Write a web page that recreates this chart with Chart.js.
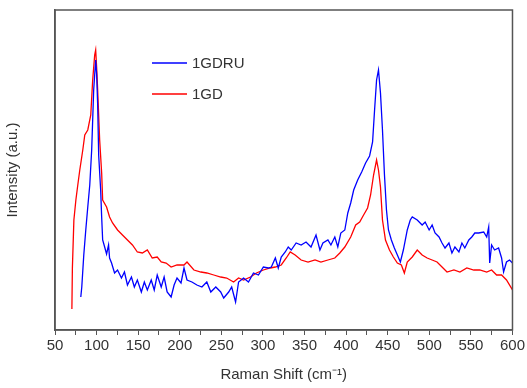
<!DOCTYPE html>
<html>
<head>
<meta charset="utf-8">
<script src="https://cdn.jsdelivr.net/npm/chart.js@4/dist/chart.umd.min.js"></script>
<style>
  html, body { margin: 0; padding: 0; background: #fff; }
  #wrap { width: 527px; height: 388px; }
</style>
</head>
<body>
<div id="wrap"><canvas id="ramanChart"></canvas></div>
<script>
// Raman shift (cm-1) and intensity (a.u.)
var shiftGDRU = [81.0, 82.2, 84.6, 87.0, 89.4, 91.8, 94.1, 96.5, 98.9, 100.1,
    101.3, 102.5, 104.9, 106.1, 107.3, 109.7, 112.0, 114.4, 115.6, 118.0,
    121.6, 125.2, 129.9, 133.5, 137.1, 141.9, 145.4, 149.0, 153.8, 157.4,
    161.0, 165.7, 169.3, 172.9, 177.7, 181.2, 184.8, 189.6, 193.2, 196.7,
    201.5, 205.1, 208.7, 214.6, 220.6, 226.6, 232.5, 237.3, 243.3, 249.2,
    252.8, 258.8, 262.4, 267.1, 270.7, 276.7, 282.6, 288.6, 294.6, 300.5,
    306.5, 310.1, 314.9, 318.4, 322.0, 326.8, 330.4, 334.0, 339.9, 345.9,
    351.8, 357.8, 363.8, 368.5, 372.1, 378.1, 381.7, 386.4, 390.0, 393.6,
    398.4, 402.0, 405.5, 409.1, 413.9, 418.7, 423.4, 428.2, 431.8, 434.2,
    436.6, 438.9, 441.3, 443.7, 446.1, 448.5, 450.9, 454.4, 458.0, 461.6,
    465.2, 468.8, 473.5, 477.1, 479.5, 485.5, 491.4, 495.0, 499.8, 503.4,
    506.9, 511.7, 515.3, 518.9, 523.6, 527.2, 530.8, 535.6, 539.2, 542.7,
    547.5, 551.1, 554.7, 559.4, 565.4, 569.0, 571.4, 572.6, 574.9, 578.5,
    583.3, 586.9, 589.3, 592.8, 596.4, 600.0];
var intGDRU = [33, 43, 75, 100, 123, 145, 180, 240, 270, 255,
    225, 175, 140, 113, 90, 83, 76, 85, 72, 67,
    57, 60, 52, 58, 45, 53, 43, 50, 38, 48,
    40, 50, 40, 55, 43, 53, 38, 33, 45, 52,
    47, 62, 50, 48, 45, 43, 48, 38, 43, 38,
    32, 38, 43, 28, 48, 52, 48, 57, 55, 63,
    62, 63, 72, 62, 73, 78, 83, 80, 87, 85,
    88, 83, 95, 80, 87, 90, 85, 93, 83, 97,
    100, 117, 127, 140, 150, 158, 167, 174, 188, 220,
    250, 260, 237, 200, 155, 120, 100, 90, 82, 75,
    68, 80, 100, 110, 113, 110, 105, 108, 100, 105,
    97, 93, 87, 82, 87, 77, 83, 78, 87, 82,
    90, 93, 97, 97, 98, 93, 103, 67, 85, 80,
    82, 72, 58, 68, 70, 67];

var shiftGD = [70.3, 70.9, 72.7, 75.1, 77.4, 79.8, 83.4, 85.8, 89.4, 93.0,
    95.3, 97.7, 98.9, 100.1, 101.3, 103.7, 106.1, 107.3, 112.0, 115.6,
    119.2, 125.2, 131.1, 137.1, 143.1, 149.0, 155.0, 161.0, 166.9, 172.9,
    177.7, 183.6, 189.6, 196.7, 205.1, 208.7, 217.0, 225.4, 232.5, 240.9,
    249.2, 256.4, 264.7, 270.7, 276.7, 285.0, 292.2, 300.5, 308.9, 314.9,
    322.0, 328.0, 332.8, 338.7, 345.9, 354.2, 362.6, 369.7, 378.1, 386.4,
    392.4, 398.4, 405.5, 411.5, 416.3, 421.0, 425.8, 429.4, 433.0, 436.6,
    438.9, 441.3, 443.7, 447.3, 452.1, 456.8, 461.6, 466.4, 470.0, 473.5,
    479.5, 485.5, 491.4, 497.4, 503.4, 509.3, 515.3, 521.3, 529.6, 536.8,
    545.1, 553.5, 560.6, 569.0, 574.9, 580.9, 586.9, 592.8, 600.0];
var intGD = [21, 62, 110, 130, 145, 160, 180, 195, 200, 215,
    250, 275, 280, 262, 240, 190, 157, 130, 123, 113,
    107, 100, 95, 90, 85, 78, 77, 80, 72, 73,
    68, 67, 63, 65, 65, 68, 60, 58, 57, 55,
    53, 52, 48, 52, 50, 53, 57, 60, 62, 63,
    65, 72, 78, 75, 70, 68, 70, 68, 70, 72,
    77, 83, 93, 105, 108, 115, 122, 135, 155, 170,
    160, 143, 110, 90, 80, 73, 67, 65, 57, 68,
    73, 80, 75, 72, 70, 68, 63, 58, 60, 58,
    62, 60, 60, 58, 60, 55, 55, 50, 40];

var xTicksMin = 50;
var xTicksMax = 600;

function toPoints(xs, ys) {
    let pts = [];
    xs.forEach((x, i) => {
        pts.push({x: x, y: ys[i]});
    });
    return pts;
}

// box around the plot + legend drawn inside it
var framePlugin = {
    id: 'frame',
    afterDraw: function(chart) {
        var a = chart.chartArea;
        var ctx = chart.ctx;
        ctx.save();
        ctx.strokeStyle = '#555';
        ctx.lineWidth = 1.5;
        ctx.strokeRect(a.left, a.top, a.right - a.left, a.bottom - a.top);

        ctx.font = '15px "Liberation Sans", Arial, sans-serif';
        ctx.textBaseline = 'middle';
        var rows = [{y: 63, ds: chart.data.datasets[0]}, {y: 94, ds: chart.data.datasets[1]}];
        rows.forEach(r => {
            ctx.strokeStyle = r.ds.borderColor;
            ctx.lineWidth = 1.5;
            ctx.beginPath();
            ctx.moveTo(152, r.y);
            ctx.lineTo(187, r.y);
            ctx.stroke();
            ctx.fillStyle = '#333';
            ctx.fillText(r.ds.label, 192, r.y + 1);
        });
        ctx.restore();
    }
};

var ctx = document.getElementById('ramanChart').getContext('2d');
var ramanChart = new Chart(ctx, {
    type: 'line',
    data: {
        datasets: [{
            label: '1GDRU',
            borderColor: '#0000ff',
            backgroundColor: '#0000ff',
            data: toPoints(shiftGDRU, intGDRU),
            borderWidth: 1.3,
            pointRadius: 0,
            tension: 0
        }, {
            label: '1GD',
            borderColor: '#ff0000',
            backgroundColor: '#ff0000',
            data: toPoints(shiftGD, intGD),
            borderWidth: 1.3,
            pointRadius: 0,
            tension: 0
        }]
    },
    options: {
        responsive: true,
        maintainAspectRatio: false,
        animation: false,
        layout: { padding: { top: 10, right: 11, left: 0, bottom: 0 } },
        plugins: {
            legend: { display: false },
            tooltip: { enabled: false }
        },
        scales: {
            x: {
                type: 'linear',
                min: xTicksMin,
                max: xTicksMax,
                afterFit: s => { s.height = 58; },
                ticks: {
                    stepSize: 25,
                    autoSkip: false,
                    maxRotation: 0,
                    color: '#333',
                    padding: 2,
                    font: { family: '"Liberation Sans", Arial, sans-serif', size: 15 },
                    callback: v => (v % 50 === 0 ? v : '')
                },
                grid: { drawOnChartArea: false, drawTicks: true, tickLength: 5, color: '#555' },
                border: { color: '#555', width: 1.5 },
                title: {
                    display: true,
                    text: 'Raman Shift (cm\u207B\u00B9)',
                    color: '#333',
                    font: { family: '"Liberation Sans", Arial, sans-serif', size: 15 },
                    padding: { top: 6 }
                }
            },
            y: {
                type: 'linear',
                min: 0,
                max: 320,
                afterFit: s => { s.width = 55; },
                ticks: { display: false },
                grid: { display: false },
                border: { color: '#555', width: 1.5 },
                title: {
                    display: true,
                    text: 'Intensity (a.u.)',
                    color: '#333',
                    font: { family: '"Liberation Sans", Arial, sans-serif', size: 15 },
                    padding: { bottom: 4 }
                }
            }
        }
    },
    plugins: [framePlugin]
});
</script>
</body>
</html>
